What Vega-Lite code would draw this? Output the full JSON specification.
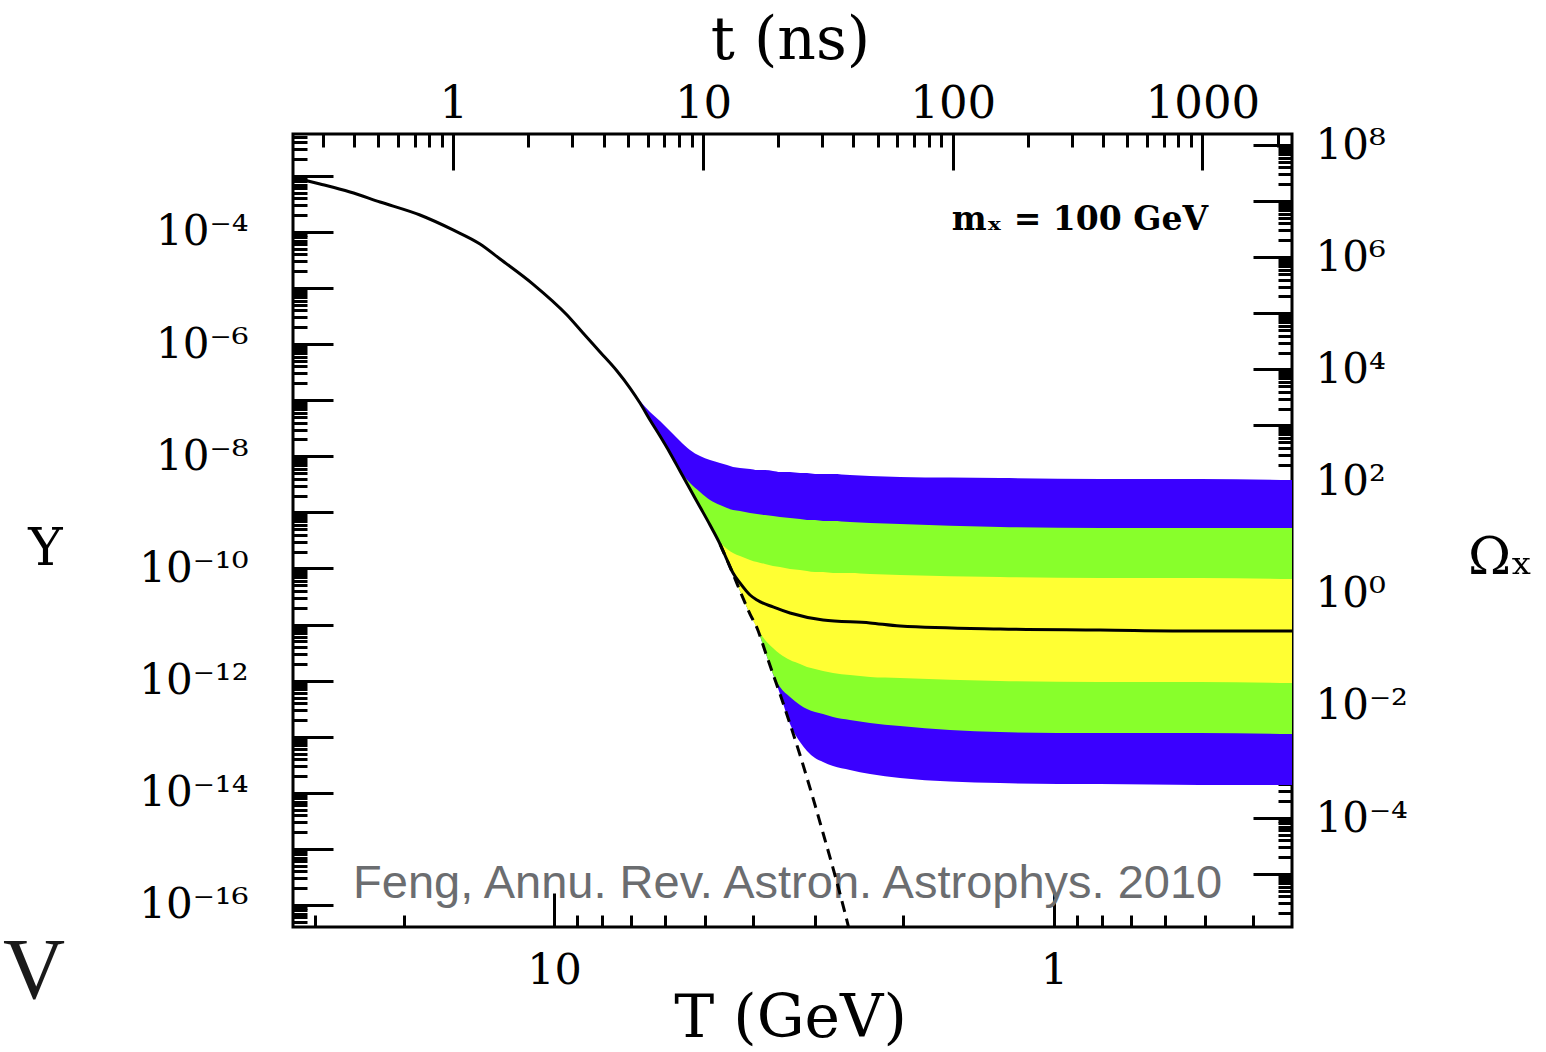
{
  "$schema": "https://vega.github.io/schema/vega-lite/v6.json",
  "width": 999,
  "height": 793,
  "autosize": {"type": "none"},
  "padding": {"left": 293, "top": 134, "right": 254, "bottom": 125},
  "background": "white",
  "config": {
    "view": {"stroke": "black", "strokeWidth": 3},
    "axis": {"grid": false, "domain": false, "tickColor": "black", "tickWidth": 3, "labelFont": "DejaVu Serif", "labelColor": "black", "titleFont": "DejaVu Serif", "titleColor": "black", "titleFontWeight": "normal", "labelOverlap": false, "labelBound": false, "labelFlush": false, "zindex": 1}
  },
  "resolve": {"scale": {"x": "independent", "y": "independent"}},
  "layer": [
    {
      "data": {"values": [
        {"T": 7.047, "hi": 1.65e-7, "lo": 1.65e-7},
        {"T": 6.730, "hi": 9.69e-8, "lo": 8.93e-8},
        {"T": 6.427, "hi": 6.17e-8, "lo": 4.44e-8},
        {"T": 6.138, "hi": 4.26e-8, "lo": 2.30e-8},
        {"T": 5.861, "hi": 2.83e-8, "lo": 1.15e-8},
        {"T": 5.598, "hi": 1.88e-8, "lo": 5.47e-9},
        {"T": 5.346, "hi": 1.30e-8, "lo": 2.61e-9},
        {"T": 5.105, "hi": 1.01e-8, "lo": 1.25e-9},
        {"T": 4.875, "hi": 8.60e-9, "lo": 5.96e-10},
        {"T": 4.656, "hi": 7.60e-9, "lo": 2.73e-10},
        {"T": 4.508, "hi": 7.00e-9, "lo": 1.42e-10},
        {"T": 4.385, "hi": 6.45e-9, "lo": 7.97e-11},
        {"T": 4.246, "hi": 6.19e-9, "lo": 3.97e-11},
        {"T": 4.055, "hi": 5.94e-9, "lo": 1.54e-11},
        {"T": 3.926, "hi": 5.70e-9, "lo": 8.68e-12},
        {"T": 3.784, "hi": 5.70e-9, "lo": 3.38e-12},
        {"T": 3.648, "hi": 5.47e-9, "lo": 1.31e-12},
        {"T": 3.532, "hi": 5.25e-9, "lo": 5.78e-13},
        {"T": 3.373, "hi": 5.25e-9, "lo": 1.69e-13},
        {"T": 3.221, "hi": 5.04e-9, "lo": 8.05e-14},
        {"T": 3.119, "hi": 5.04e-9, "lo": 5.56e-14},
        {"T": 3.006, "hi": 4.84e-9, "lo": 4.17e-14},
        {"T": 2.897, "hi": 4.84e-9, "lo": 3.54e-14},
        {"T": 2.767, "hi": 4.84e-9, "lo": 3.00e-14},
        {"T": 2.559, "hi": 4.64e-9, "lo": 2.55e-14},
        {"T": 2.333, "hi": 4.46e-9, "lo": 2.16e-14},
        {"T": 2.032, "hi": 4.28e-9, "lo": 1.84e-14},
        {"T": 1.282, "hi": 4.11e-9, "lo": 1.49e-14},
        {"T": 0.809, "hi": 3.94e-9, "lo": 1.43e-14},
        {"T": 0.5105, "hi": 3.94e-9, "lo": 1.38e-14},
        {"T": 0.3342, "hi": 3.78e-9, "lo": 1.38e-14}
      ]},
      "mark": {"type": "area", "color": "#3a00ff", "interpolate": "monotone"},
      "encoding": {
        "x": {"field": "T", "type": "quantitative", "scale": {"type": "log", "domain": [0.3342, 33.27], "reverse": true, "nice": false},
          "axis": {"orient": "bottom", "values": [10, 1], "format": "~g", "tickSize": -34, "labelPadding": 77, "labelBaseline": "middle", "labelFontSize": 43, "title": "T (GeV)", "titleFontSize": 60, "titleX": 497, "titleY": 91, "titleAlign": "center", "titleBaseline": "middle"}},
        "y": {"field": "hi", "type": "quantitative", "scale": {"type": "log", "domain": [4.05e-17, 5.59e-3], "nice": false},
          "axis": {"orient": "left", "values": [1e-3, 1e-4, 1e-5, 1e-6, 1e-7, 1e-8, 1e-9, 1e-10, 1e-11, 1e-12, 1e-13, 1e-14, 1e-15, 1e-16],
            "labelExpr": "['','','','','10⁻⁴','','10⁻⁶','','10⁻⁸','','10⁻¹⁰','','10⁻¹²','','10⁻¹⁴','','10⁻¹⁶'][-round(log(datum.value)/LN10)]",
            "tickSize": -40, "labelPadding": 85, "labelFontSize": 42, "labelAlign": "right", "labelBaseline": "middle",
            "title": "Y", "titleFontSize": 52, "titleAngle": 0, "titleX": -248, "titleY": 414, "titleAlign": "center", "titleBaseline": "middle"}},
        "y2": {"field": "lo"}
      }
    },
    {
      "data": {"values": [
        {"T": 5.598, "hi": 5.47e-9, "lo": 5.47e-9},
        {"T": 5.346, "hi": 3.34e-9, "lo": 2.61e-9},
        {"T": 5.105, "hi": 2.31e-9, "lo": 1.25e-9},
        {"T": 4.875, "hi": 1.66e-9, "lo": 5.96e-10},
        {"T": 4.656, "hi": 1.35e-9, "lo": 2.73e-10},
        {"T": 4.508, "hi": 1.20e-9, "lo": 1.42e-10},
        {"T": 4.385, "hi": 1.10e-9, "lo": 7.97e-11},
        {"T": 4.246, "hi": 1.06e-9, "lo": 3.97e-11},
        {"T": 4.055, "hi": 9.75e-10, "lo": 1.54e-11},
        {"T": 3.926, "hi": 9.36e-10, "lo": 8.68e-12},
        {"T": 3.784, "hi": 8.98e-10, "lo": 3.38e-12},
        {"T": 3.648, "hi": 8.62e-10, "lo": 1.31e-12},
        {"T": 3.532, "hi": 8.28e-10, "lo": 7.70e-13},
        {"T": 3.373, "hi": 7.94e-10, "lo": 5.11e-13},
        {"T": 3.221, "hi": 7.62e-10, "lo": 3.68e-13},
        {"T": 3.119, "hi": 7.32e-10, "lo": 3.12e-13},
        {"T": 3.006, "hi": 7.32e-10, "lo": 2.76e-13},
        {"T": 2.897, "hi": 7.02e-10, "lo": 2.54e-13},
        {"T": 2.767, "hi": 7.02e-10, "lo": 2.25e-13},
        {"T": 2.559, "hi": 6.74e-10, "lo": 1.99e-13},
        {"T": 2.333, "hi": 6.47e-10, "lo": 1.76e-13},
        {"T": 2.032, "hi": 6.21e-10, "lo": 1.55e-13},
        {"T": 1.282, "hi": 5.49e-10, "lo": 1.21e-13},
        {"T": 0.809, "hi": 5.27e-10, "lo": 1.16e-13},
        {"T": 0.5105, "hi": 5.27e-10, "lo": 1.16e-13},
        {"T": 0.3342, "hi": 5.27e-10, "lo": 1.12e-13}
      ]},
      "mark": {"type": "area", "color": "#88ff2b", "interpolate": "monotone"},
      "encoding": {
        "x": {"field": "T", "type": "quantitative", "scale": {"type": "log", "domain": [0.3342, 33.27], "reverse": true, "nice": false},
          "axis": {"orient": "bottom", "values": [30, 20, 9, 8, 7, 6, 5, 4, 3, 2, 0.9, 0.8, 0.7, 0.6, 0.5, 0.4], "tickSize": -12, "labels": false, "title": null}},
        "y": {"field": "hi", "type": "quantitative", "scale": {"type": "log", "domain": [4.05e-17, 5.59e-3], "nice": false},
          "axis": {"orient": "left", "tickSize": -14, "labels": false, "title": null, "values": [
            5e-17, 6e-17, 7e-17, 8e-17, 9e-17,
            2e-16, 3e-16, 4e-16, 5e-16, 6e-16, 7e-16, 8e-16, 9e-16,
            2e-15, 3e-15, 4e-15, 5e-15, 6e-15, 7e-15, 8e-15, 9e-15,
            2e-14, 3e-14, 4e-14, 5e-14, 6e-14, 7e-14, 8e-14, 9e-14,
            2e-13, 3e-13, 4e-13, 5e-13, 6e-13, 7e-13, 8e-13, 9e-13,
            2e-12, 3e-12, 4e-12, 5e-12, 6e-12, 7e-12, 8e-12, 9e-12,
            2e-11, 3e-11, 4e-11, 5e-11, 6e-11, 7e-11, 8e-11, 9e-11,
            2e-10, 3e-10, 4e-10, 5e-10, 6e-10, 7e-10, 8e-10, 9e-10,
            2e-9, 3e-9, 4e-9, 5e-9, 6e-9, 7e-9, 8e-9, 9e-9,
            2e-8, 3e-8, 4e-8, 5e-8, 6e-8, 7e-8, 8e-8, 9e-8,
            2e-7, 3e-7, 4e-7, 5e-7, 6e-7, 7e-7, 8e-7, 9e-7,
            2e-6, 3e-6, 4e-6, 5e-6, 6e-6, 7e-6, 8e-6, 9e-6,
            2e-5, 3e-5, 4e-5, 5e-5, 6e-5, 7e-5, 8e-5, 9e-5,
            2e-4, 3e-4, 4e-4, 5e-4, 6e-4, 7e-4, 8e-4, 9e-4,
            2e-3, 3e-3, 4e-3, 5e-3]}},
        "y2": {"field": "lo"}
      }
    },
    {
      "data": {"values": [
        {"T": 4.875, "hi": 5.96e-10, "lo": 5.96e-10},
        {"T": 4.656, "hi": 2.97e-10, "lo": 2.73e-10},
        {"T": 4.508, "hi": 2.22e-10, "lo": 1.42e-10},
        {"T": 4.385, "hi": 1.89e-10, "lo": 7.97e-11},
        {"T": 4.246, "hi": 1.67e-10, "lo": 3.97e-11},
        {"T": 4.055, "hi": 1.42e-10, "lo": 1.54e-11},
        {"T": 3.926, "hi": 1.30e-10, "lo": 8.68e-12},
        {"T": 3.784, "hi": 1.20e-10, "lo": 5.30e-12},
        {"T": 3.648, "hi": 1.11e-10, "lo": 3.82e-12},
        {"T": 3.532, "hi": 1.06e-10, "lo": 2.98e-12},
        {"T": 3.373, "hi": 9.79e-11, "lo": 2.33e-12},
        {"T": 3.221, "hi": 9.39e-11, "lo": 1.98e-12},
        {"T": 3.119, "hi": 9.01e-11, "lo": 1.75e-12},
        {"T": 3.006, "hi": 8.65e-11, "lo": 1.61e-12},
        {"T": 2.897, "hi": 8.65e-11, "lo": 1.49e-12},
        {"T": 2.767, "hi": 8.30e-11, "lo": 1.37e-12},
        {"T": 2.559, "hi": 8.30e-11, "lo": 1.26e-12},
        {"T": 2.333, "hi": 7.97e-11, "lo": 1.16e-12},
        {"T": 2.032, "hi": 7.65e-11, "lo": 1.11e-12},
        {"T": 1.282, "hi": 7.05e-11, "lo": 9.85e-13},
        {"T": 0.809, "hi": 6.76e-11, "lo": 9.45e-13},
        {"T": 0.5105, "hi": 6.76e-11, "lo": 9.45e-13},
        {"T": 0.3342, "hi": 6.49e-11, "lo": 9.07e-13}
      ]},
      "mark": {"type": "area", "color": "#ffff33", "interpolate": "monotone"},
      "encoding": {
        "x": {"field": "T", "type": "quantitative", "scale": {"type": "log", "domain": [0.3342, 33.27], "reverse": true, "nice": false}, "axis": null},
        "y": {"field": "hi", "type": "quantitative", "scale": {"type": "log", "domain": [4.05e-17, 5.59e-3], "nice": false}, "axis": null},
        "y2": {"field": "lo"}
      }
    },
    {
      "data": {"values": [{"label": "Feng, Annu. Rev. Astron. Astrophys. 2010"}]},
      "mark": {"type": "text", "align": "left", "baseline": "alphabetic", "font": "Liberation Sans", "fontSize": 47, "color": "#6b6d70"},
      "encoding": {
        "x": {"datum": 25.23, "type": "quantitative", "scale": {"type": "log", "domain": [0.3342, 33.27], "reverse": true, "nice": false}, "axis": null},
        "y": {"datum": 1.33e-16, "type": "quantitative", "scale": {"type": "log", "domain": [4.05e-17, 5.59e-3], "nice": false}, "axis": null},
        "text": {"field": "label"}
      }
    },
    {
      "data": {"values": [
        {"T": 4.656, "Y": 2.73e-10},
        {"T": 4.508, "Y": 1.42e-10},
        {"T": 4.385, "Y": 7.97e-11},
        {"T": 4.246, "Y": 3.97e-11},
        {"T": 4.055, "Y": 1.54e-11},
        {"T": 3.926, "Y": 8.68e-12},
        {"T": 3.784, "Y": 3.38e-12},
        {"T": 3.648, "Y": 1.31e-12},
        {"T": 3.532, "Y": 5.78e-13},
        {"T": 3.373, "Y": 1.69e-13},
        {"T": 3.221, "Y": 4.72e-14},
        {"T": 3.119, "Y": 1.84e-14},
        {"T": 3.006, "Y": 6.06e-15},
        {"T": 2.897, "Y": 1.92e-15},
        {"T": 2.767, "Y": 4.56e-16},
        {"T": 2.618, "Y": 7.19e-17},
        {"T": 2.576, "Y": 4.05e-17}
      ]},
      "mark": {"type": "line", "color": "black", "strokeWidth": 3, "strokeDash": [11, 7], "interpolate": "monotone"},
      "encoding": {
        "x": {"field": "T", "type": "quantitative", "scale": {"type": "log", "domain": [0.3342, 33.27], "reverse": true, "nice": false}, "axis": null},
        "y": {"field": "Y", "type": "quantitative", "scale": {"type": "log", "domain": [4.05e-17, 5.59e-3], "nice": false}, "axis": null}
      }
    },
    {
      "data": {"values": [
        {"T": 33.2, "Y": 9.37e-4},
        {"T": 29.38, "Y": 7.18e-4},
        {"T": 25.59, "Y": 5.17e-4},
        {"T": 22.28, "Y": 3.43e-4},
        {"T": 18.54, "Y": 2.01e-4},
        {"T": 15.92, "Y": 1.09e-4},
        {"T": 14.06, "Y": 6.11e-5},
        {"T": 12.82, "Y": 3.30e-5},
        {"T": 11.02, "Y": 1.18e-5},
        {"T": 9.419, "Y": 3.31e-6},
        {"T": 8.750, "Y": 1.58e-6},
        {"T": 8.091, "Y": 7.25e-7},
        {"T": 7.482, "Y": 3.32e-7},
        {"T": 7.047, "Y": 1.65e-7},
        {"T": 6.730, "Y": 8.93e-8},
        {"T": 6.427, "Y": 4.44e-8},
        {"T": 6.138, "Y": 2.30e-8},
        {"T": 5.861, "Y": 1.15e-8},
        {"T": 5.598, "Y": 5.47e-9},
        {"T": 5.346, "Y": 2.61e-9},
        {"T": 5.105, "Y": 1.25e-9},
        {"T": 4.875, "Y": 5.96e-10},
        {"T": 4.656, "Y": 2.73e-10},
        {"T": 4.508, "Y": 1.42e-10},
        {"T": 4.385, "Y": 8.30e-11},
        {"T": 4.246, "Y": 5.51e-11},
        {"T": 4.055, "Y": 3.37e-11},
        {"T": 3.926, "Y": 2.74e-11},
        {"T": 3.648, "Y": 2.06e-11},
        {"T": 3.373, "Y": 1.61e-11},
        {"T": 2.897, "Y": 1.21e-11},
        {"T": 2.333, "Y": 1.07e-11},
        {"T": 2.032, "Y": 9.42e-12},
        {"T": 1.282, "Y": 8.33e-12},
        {"T": 0.809, "Y": 8.00e-12},
        {"T": 0.5105, "Y": 7.67e-12},
        {"T": 0.3342, "Y": 7.67e-12}
      ]},
      "mark": {"type": "line", "color": "black", "strokeWidth": 3, "interpolate": "monotone"},
      "encoding": {
        "x": {"field": "T", "type": "quantitative", "scale": {"type": "log", "domain": [0.3342, 33.27], "reverse": true, "nice": false}, "axis": null},
        "y": {"field": "Y", "type": "quantitative", "scale": {"type": "log", "domain": [4.05e-17, 5.59e-3], "nice": false}, "axis": null}
      }
    },
    {
      "data": {"values": [{"label": "mₓ = 100 GeV"}]},
      "mark": {"type": "text", "align": "right", "baseline": "alphabetic", "font": "DejaVu Serif", "fontSize": 33, "fontWeight": "bold", "color": "black"},
      "encoding": {
        "x": {"datum": 0.492, "type": "quantitative", "scale": {"type": "log", "domain": [0.3342, 33.27], "reverse": true, "nice": false}, "axis": null},
        "y": {"datum": 1.09e-4, "type": "quantitative", "scale": {"type": "log", "domain": [4.05e-17, 5.59e-3], "nice": false}, "axis": null},
        "text": {"field": "label"}
      }
    },
    {
      "data": {"values": [{"label": "V"}]},
      "mark": {"type": "text", "align": "center", "baseline": "alphabetic", "font": "Liberation Serif", "fontSize": 86, "color": "#1a1a1a"},
      "encoding": {
        "x": {"datum": 109.6, "type": "quantitative", "scale": {"type": "log", "domain": [0.3342, 33.27], "reverse": true, "nice": false}, "axis": null},
        "y": {"datum": 2.19e-18, "type": "quantitative", "scale": {"type": "log", "domain": [4.05e-17, 5.59e-3], "nice": false}, "axis": null},
        "text": {"field": "label"}
      }
    },
    {
      "data": {"values": [{}]},
      "mark": {"type": "point", "opacity": 0},
      "encoding": {
        "x": {"datum": 1, "type": "quantitative", "scale": {"type": "log", "domain": [0.228, 2285], "nice": false},
          "axis": {"orient": "top", "values": [1, 10, 100, 1000], "format": "~g", "tickSize": -36, "labelPadding": 67, "labelBaseline": "middle", "labelFontSize": 45, "title": "t (ns)", "titleFontSize": 60, "titleX": 497, "titleY": -94, "titleAlign": "center", "titleBaseline": "middle"}},
        "y": {"datum": 1, "type": "quantitative", "scale": {"type": "log", "domain": [1.14e-6, 1.576e8], "nice": false},
          "axis": {"orient": "right", "values": [1e-5, 1e-4, 1e-3, 1e-2, 1e-1, 1, 10, 100, 1000, 1e4, 1e5, 1e6, 1e7, 1e8],
            "labelExpr": "['','10⁻⁴','','10⁻²','','10⁰','','10²','','10⁴','','10⁶','','10⁸'][round(log(datum.value)/LN10)+5]",
            "tickSize": -39, "labelPadding": 62, "labelAlign": "left", "labelBaseline": "middle", "labelFontSize": 42,
            "title": "Ωₓ", "titleFontSize": 52, "titleAngle": 0, "titleX": 208, "titleY": 423, "titleAlign": "center", "titleBaseline": "middle"}}
      }
    },
    {
      "data": {"values": [{}]},
      "mark": {"type": "point", "opacity": 0},
      "encoding": {
        "x": {"datum": 1, "type": "quantitative", "scale": {"type": "log", "domain": [0.228, 2285], "nice": false},
          "axis": {"orient": "top", "values": [0.3, 0.4, 0.5, 0.6, 0.7, 0.8, 0.9, 2, 3, 4, 5, 6, 7, 8, 9, 20, 30, 40, 50, 60, 70, 80, 90, 200, 300, 400, 500, 600, 700, 800, 900, 2000], "tickSize": -13, "labels": false, "title": null}},
        "y": {"datum": 1, "type": "quantitative", "scale": {"type": "log", "domain": [1.14e-6, 1.576e8], "nice": false},
          "axis": {"orient": "right", "tickSize": -14, "labels": false, "title": null, "values": [
            2e-6, 3e-6, 4e-6, 5e-6, 6e-6, 7e-6, 8e-6, 9e-6,
            2e-5, 3e-5, 4e-5, 5e-5, 6e-5, 7e-5, 8e-5, 9e-5,
            2e-4, 3e-4, 4e-4, 5e-4, 6e-4, 7e-4, 8e-4, 9e-4,
            2e-3, 3e-3, 4e-3, 5e-3, 6e-3, 7e-3, 8e-3, 9e-3,
            0.02, 0.03, 0.04, 0.05, 0.06, 0.07, 0.08, 0.09,
            0.2, 0.3, 0.4, 0.5, 0.6, 0.7, 0.8, 0.9,
            2, 3, 4, 5, 6, 7, 8, 9,
            20, 30, 40, 50, 60, 70, 80, 90,
            200, 300, 400, 500, 600, 700, 800, 900,
            2000, 3000, 4000, 5000, 6000, 7000, 8000, 9000,
            2e4, 3e4, 4e4, 5e4, 6e4, 7e4, 8e4, 9e4,
            2e5, 3e5, 4e5, 5e5, 6e5, 7e5, 8e5, 9e5,
            2e6, 3e6, 4e6, 5e6, 6e6, 7e6, 8e6, 9e6,
            2e7, 3e7, 4e7, 5e7, 6e7, 7e7, 8e7, 9e7]}}
      }
    }
  ]
}
